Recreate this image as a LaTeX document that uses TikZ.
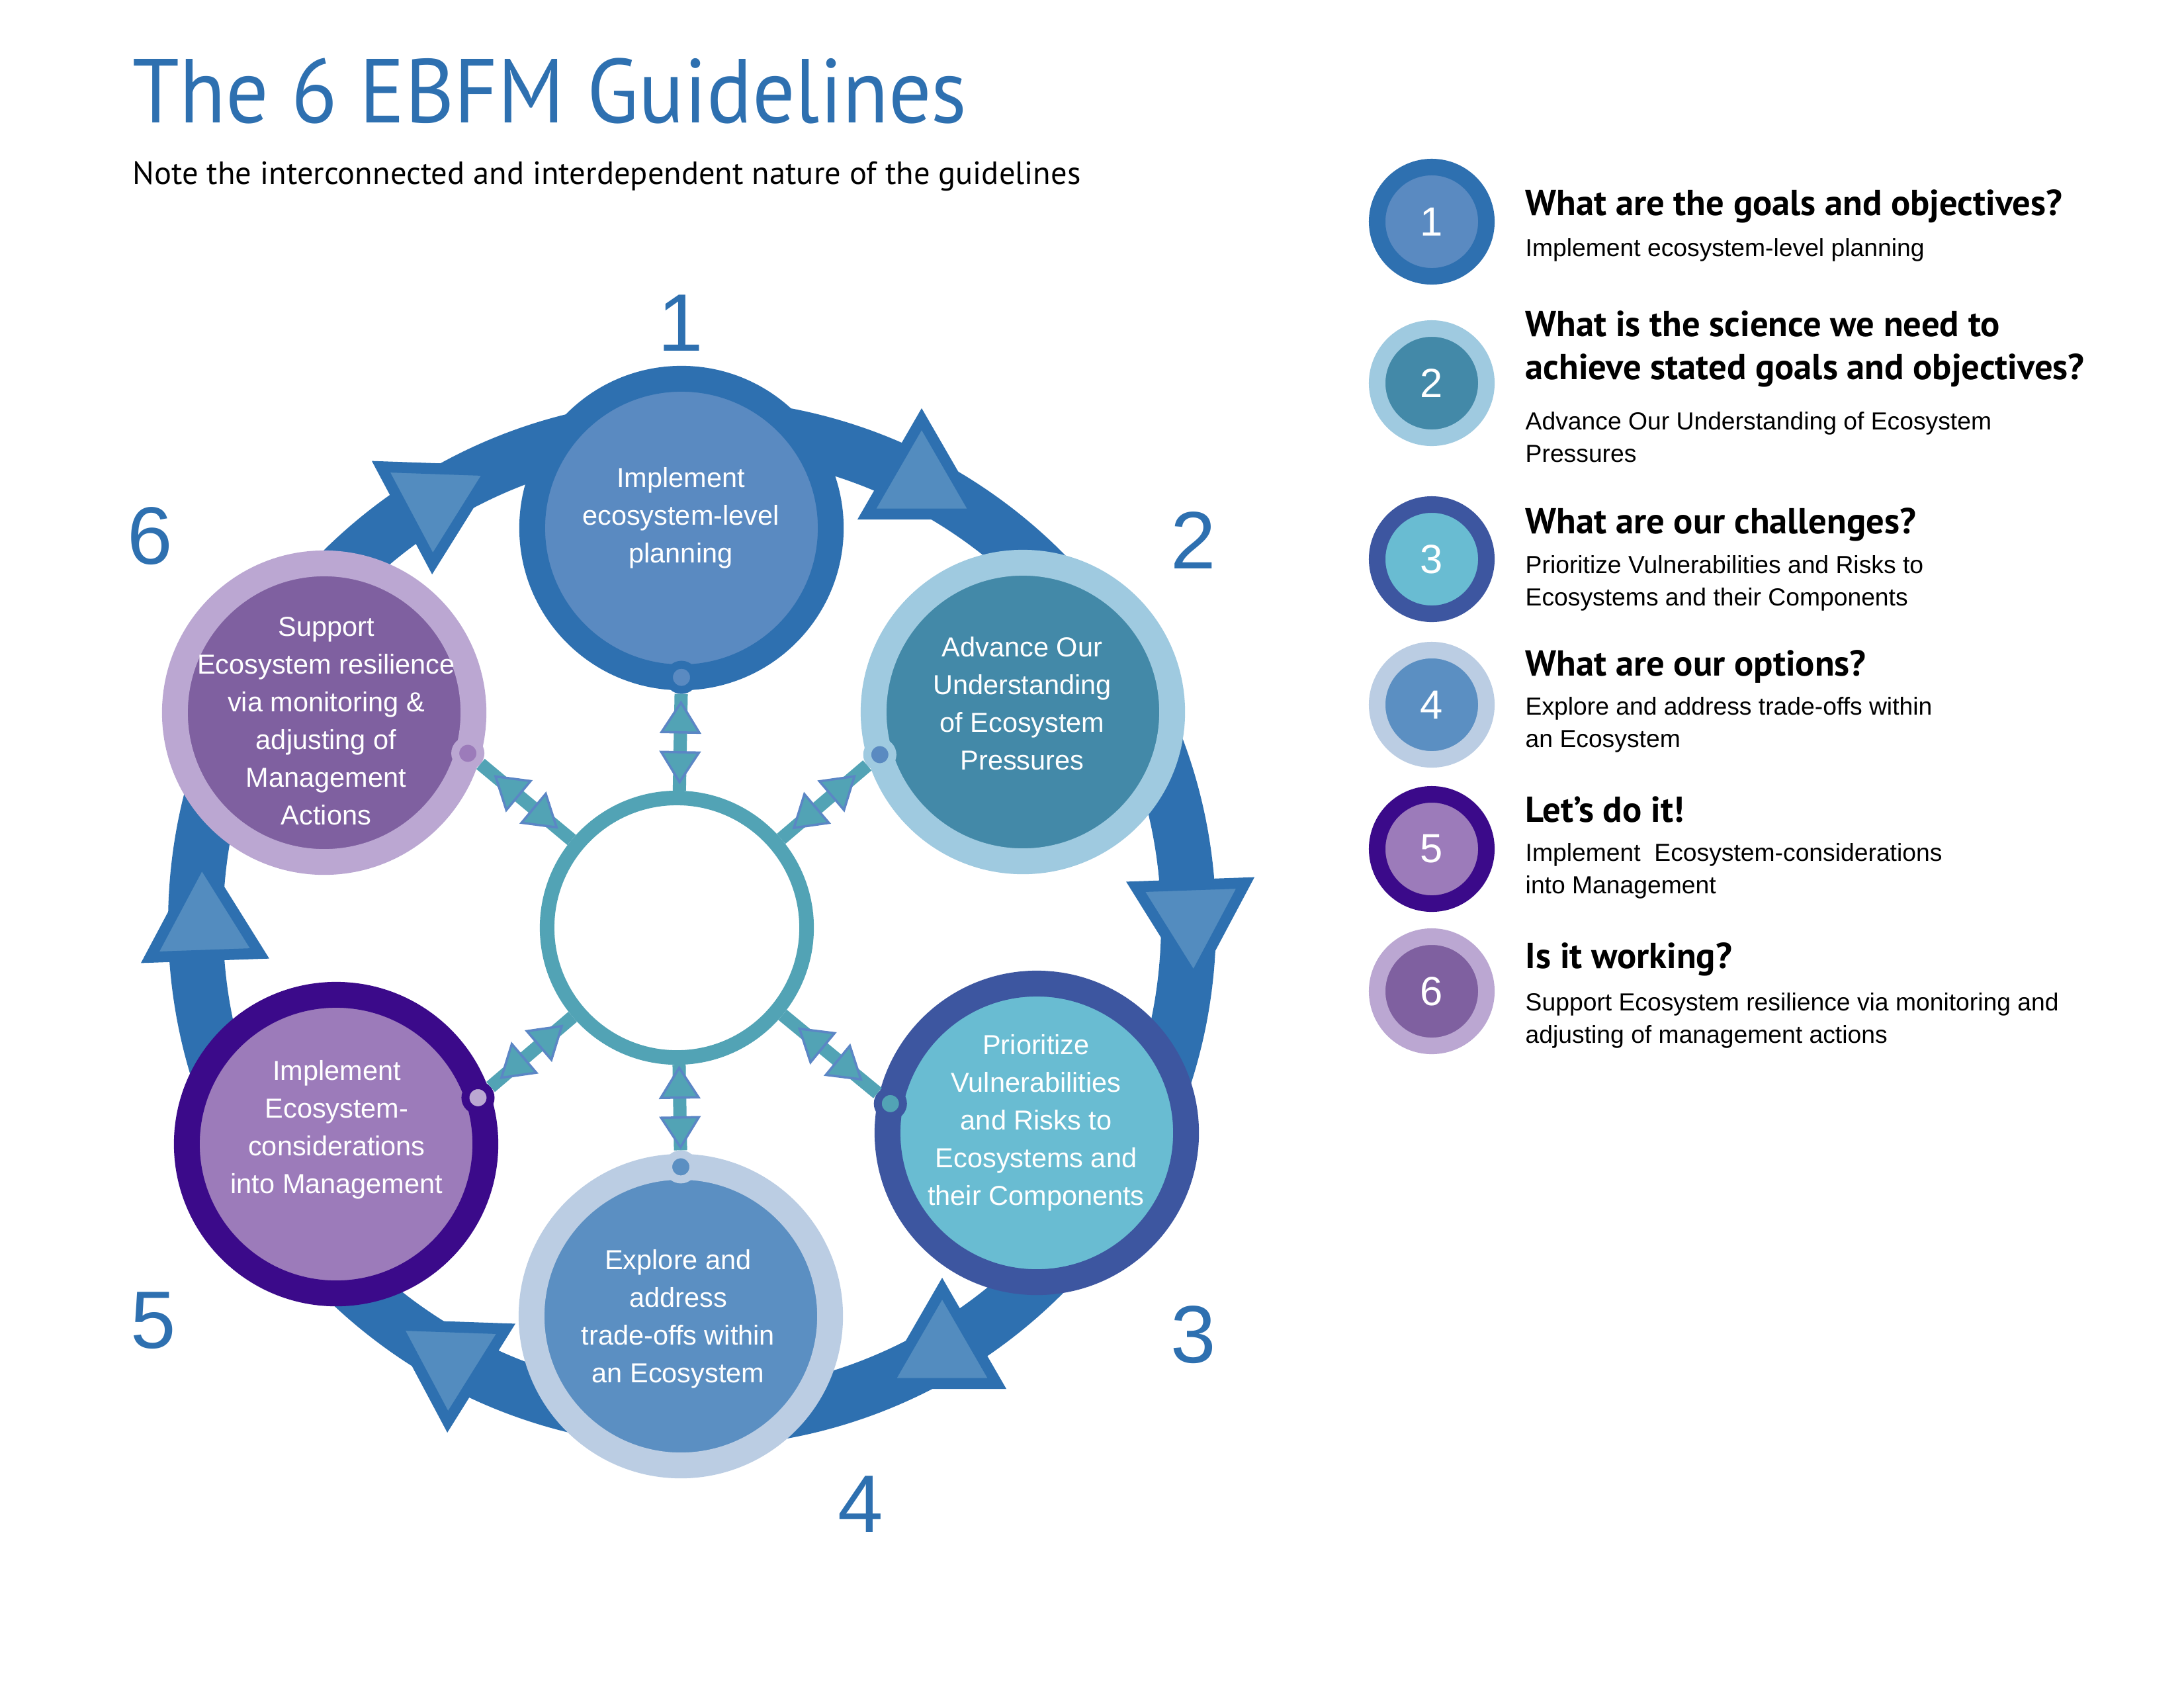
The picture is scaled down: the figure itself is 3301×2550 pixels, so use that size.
\documentclass[tikz,border=0pt]{standalone}
\usepackage{fontspec}
\setmainfont{PT Sans}
\newfontfamily\titlefont[FakeStretch=0.93]{PT Sans}
\newfontfamily\arialfont{Liberation Sans}
\usetikzlibrary{shapes.geometric,decorations.markings,calc}

\definecolor{cycleblue}{HTML}{2E70B0}
\definecolor{tipfill}{HTML}{538CBF}
\definecolor{hubteal}{HTML}{52A3B5}
\definecolor{tipedge}{HTML}{5B86C5}
\definecolor{ring1}{HTML}{2E70B0} \definecolor{core1}{HTML}{5A8AC1}
\definecolor{ring2}{HTML}{9FCAE0} \definecolor{core2}{HTML}{4389A8}
\definecolor{ring3}{HTML}{3D56A0} \definecolor{core3}{HTML}{69BCD2}
\definecolor{ring4}{HTML}{BBCDE3} \definecolor{core4}{HTML}{5B8FC2}
\definecolor{ring5}{HTML}{3B0A8A} \definecolor{core5}{HTML}{9C7BBA}
\definecolor{ring6}{HTML}{BBA7D2} \definecolor{core6}{HTML}{7F60A0}

\newcommand{\hubtips}{\filldraw[fill=hubteal, draw=tipedge, line width=0.035cm]
    (-0.15cm,0.285cm) -- (-0.6cm,0cm) -- (-0.15cm,-0.285cm) -- cycle
    (0.15cm,0.285cm) -- (0.6cm,0cm) -- (0.15cm,-0.285cm) -- cycle;}

\begin{document}
\begin{tikzpicture}[x=0.01cm, y=-0.01cm]
    \tikzstyle{guide}=[circle, inner sep=0pt, minimum size=4.51cm, line width=0.39cm]
    \tikzstyle{guidetext}=[inner sep=0pt, text=white, align=center, font=\arialfont\fontsize{11.8}{16.2}\selectfont]
    \tikzstyle{cyctri}=[regular polygon, regular polygon sides=3, inner sep=0pt, minimum size=1.91cm, line width=0.165cm, draw=cycleblue, fill=tipfill]
    \tikzstyle{dot}=[circle, inner sep=0pt, minimum size=0.38cm, line width=0.12cm]
    \tikzstyle{legcirc}=[circle, inner sep=0pt, minimum size=1.65cm, line width=0.25cm, text=white, font=\arialfont\fontsize{17.5}{20}\selectfont]
    \tikzstyle{stepnum}=[text=cycleblue, inner sep=0pt, font=\arialfont\fontsize{35}{40}\selectfont]
    \tikzstyle{question}=[anchor=base west, inner sep=0pt, align=left, font=\bfseries\fontsize{15.5}{18.4}\selectfont]
    \tikzstyle{answer}=[anchor=base west, inner sep=0pt, align=left, font=\arialfont\fontsize{10.6}{13.9}\selectfont]
    \tikzstyle{link}=[hubteal, line width=0.2cm, postaction={decorate}, decoration={markings, mark=at position 0.5 with {\hubtips}}]

    \useasboundingbox (0,0) rectangle (3301,2550);

    % heading
    \node[anchor=base west, inner sep=0pt, text=cycleblue, font=\titlefont\fontsize{39}{46}\selectfont] (title) at (200,185) {The 6 EBFM Guidelines};
    \node[anchor=base west, inner sep=0pt, font=\fontsize{13.8}{16}\selectfont] (subtitle) at (200,278) {Note the interconnected and interdependent nature of the guidelines};

    % cycle
    \draw[cycleblue, line width=0.83cm] (1046,1395) circle[radius=7.5cm];
    \foreach \x/\y/\r [count=\i] in {1393/729/0, 1801/1385/-178, 1424/2043/0, 680/2053/-182, 308/1396/2, 657/756/-182} {
        \node[cyctri, rotate=\r] (tri\i) at (\x,\y) {};
    }

    \foreach \i/\x/\y in {1/1030/798, 2/1546/1076, 3/1567/1712, 4/1029/1989, 5/508/1729, 6/490/1077} {
        \node[guide, draw=ring\i, fill=core\i] (c\i) at (\x,\y) {};
    }
    \node[guidetext] (t1) at (1029,783) {Implement\\ecosystem-level\\planning};
    \node[guidetext] (t2) at (1545,1063) {Advance Our\\Understanding\\of Ecosystem\\Pressures};
    \node[guidetext] (t3) at (1566,1697) {Prioritize\\Vulnerabilities\\and Risks to\\Ecosystems and\\their Components};
    \node[guidetext] (t4) at (1025,1993) {Explore and\\address\\trade-offs within\\an Ecosystem};
    \node[guidetext] (t5) at (509,1707) {Implement\\Ecosystem-\\considerations\\into Management};
    \node[guidetext] (t6) at (493,1090) {Support\\Ecosystem resilience\\via monitoring \&\\adjusting of\\Management\\Actions};

    \node[stepnum] (n1) at (1029,488) {1};
    \node[stepnum] (n2) at (1804,817) {2};
    \node[stepnum] (n3) at (1804,2017) {3};
    \node[stepnum] (n4) at (1301,2273) {4};
    \node[stepnum] (n5) at (232,1996) {5};
    \node[stepnum] (n6) at (227,810) {6};

    % hub and links
    \node[circle, draw=hubteal, fill=white, line width=0.22cm, minimum size=3.92cm, inner sep=0pt] (hub) at (1023,1402) {};
    \foreach \i/\a/\f in {1/-90/core1, 2/196.6/core1, 3/168.7/hubteal, 4/90/core4, 5/18.1/ring6, 6/-15.8/core5} {
        \node[dot, draw=ring\i, fill=\f] (d\i) at ($(c\i.center)+(\a:2.255cm)$) {};
        \draw[link] (d\i) -- (hub);
    }

    % legend
    \foreach \i/\y in {1/335, 2/579, 3/845, 4/1065, 5/1283, 6/1498} {
        \node[legcirc, draw=ring\i, fill=core\i] (leg\i) at (2164,\y) {\i};
    }
    \node[question] (q1) at (2305,325) {What are the goals and objectives?};
    \node[answer] (a1) at (2305,387) {Implement ecosystem-level planning};
    \node[question] (q2) at (2305,573) {What is the science we need to\\achieve stated goals and objectives?};
    \node[answer] (a2) at (2305,698) {Advance Our Understanding of Ecosystem\\Pressures};
    \node[question] (q3) at (2305,806) {What are our challenges?};
    \node[answer] (a3) at (2305,915) {Prioritize Vulnerabilities and Risks to\\Ecosystems and their Components};
    \node[question] (q4) at (2305,1021) {What are our options?};
    \node[answer] (a4) at (2305,1129) {Explore and address trade-offs within\\an Ecosystem};
    \node[question] (q5) at (2305,1242) {Let’s do it!};
    \node[answer] (a5) at (2305,1350) {Implement \ Ecosystem-considerations\\into Management};
    \node[question] (q6) at (2305,1463) {Is it working?};
    \node[answer] (a6) at (2305,1576) {Support Ecosystem resilience via monitoring and\\adjusting of management actions};
\end{tikzpicture}
\end{document}
